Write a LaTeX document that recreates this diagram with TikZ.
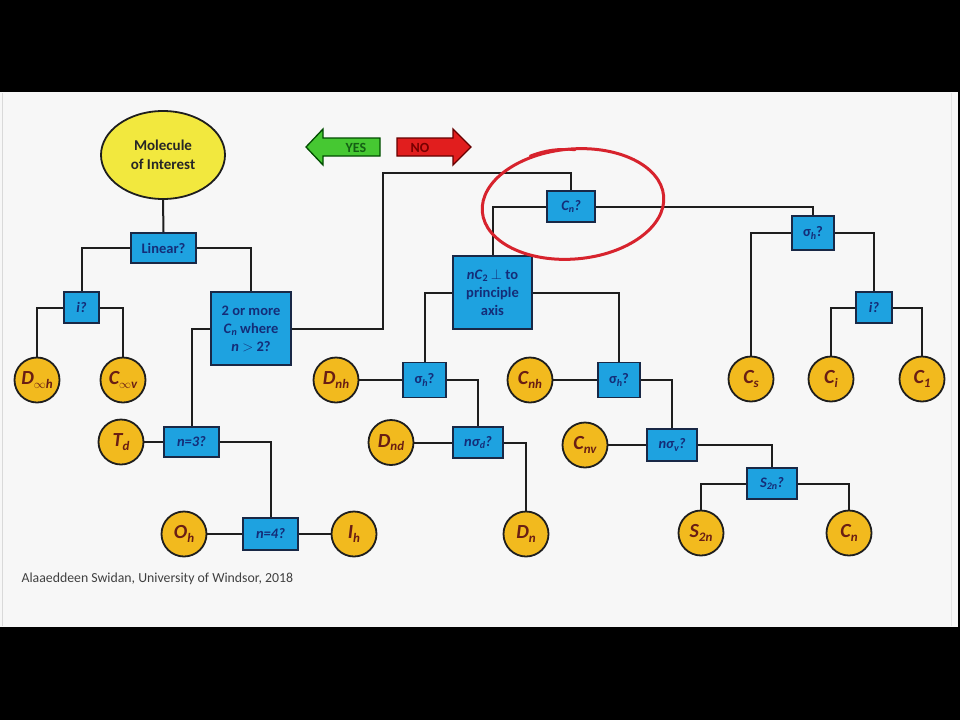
\documentclass[tikz,border=0pt]{standalone}
\usepackage{fontspec}
\setmainfont{Carlito}
\usetikzlibrary{shapes.geometric}
\definecolor{bgwhite}{RGB}{247,247,247}
\definecolor{boxblue}{RGB}{30,162,224}
\definecolor{boxline}{RGB}{25,40,70}
\definecolor{boxtext}{RGB}{20,45,120}
\definecolor{gold}{RGB}{242,186,30}
\definecolor{pgtext}{RGB}{105,30,20}
\definecolor{molyellow}{RGB}{242,232,62}
\definecolor{linec}{RGB}{30,30,30}
\definecolor{yesgreen}{RGB}{70,200,50}
\definecolor{yestext}{RGB}{20,95,20}
\definecolor{nored}{RGB}{225,30,30}
\definecolor{notext}{RGB}{120,0,0}
\definecolor{ringred}{RGB}{215,35,45}
\newcommand{\lsub}[1]{\raisebox{-0.35ex}{\fontsize{13}{13}\selectfont #1}}
\newcommand{\bsub}[1]{\raisebox{-0.3ex}{\fontsize{10}{10}\selectfont #1}}
\tikzset{
  qbox/.style={draw=boxline, line width=1.8pt, fill=boxblue, text=boxtext,
    font=\fontsize{14.5}{18}\selectfont\bfseries, inner sep=0pt, align=center},
  pgc/.style={circle, draw=linec, line width=1.8pt, fill=gold, minimum size=45pt,
    inner sep=0pt, text=pgtext, font=\fontsize{20}{20}\selectfont\bfseries\itshape},
  link/.style={draw=linec, line width=2pt},
}
\begin{document}
\begin{tikzpicture}[x=1pt,y=-1pt]
\useasboundingbox (0,0) rectangle (960,720);
\fill[black] (0,0) rectangle (960,720);
\fill[bgwhite] (0,92) rectangle (958,627);
\draw[black!15, line width=1pt] (2,93) -- (2,626);
\draw[black!10, line width=1pt] (951,93) -- (951,626);

% start
\node[ellipse, draw=linec, line width=1.8pt, fill=molyellow, minimum width=124pt, minimum height=88pt,
  inner sep=0pt, align=center, text=black!85, font=\fontsize{15}{19}\selectfont\bfseries] (mol) at (163,155) {Molecule\\of Interest};

% question boxes
\node[qbox, minimum width=65pt, minimum height=30pt] (lin) at (163.5,248) {Linear?};
\node[qbox, minimum width=35pt, minimum height=31pt] (i1) at (81.5,307.5) {\itshape i?};
\node[qbox, minimum width=80pt, minimum height=73pt] (two) at (251,328.5) {2 or more\\\textit{C}\bsub{\itshape n} where\\\textit{n} $>$ 2?};
\node[qbox, minimum width=55pt, minimum height=30pt] (n3) at (191.5,442) {\itshape n=3?};
\node[qbox, minimum width=55pt, minimum height=32pt] (n4) at (270.5,534) {\itshape n=4?};
\node[qbox, minimum width=48pt, minimum height=31pt] (cn) at (571,206.5) {\itshape C\bsub{n}?};
\node[qbox, minimum width=79pt, minimum height=73pt] (nc2) at (492.5,292.5) {\textit{nC}\bsub{2} $\perp$ to\\principle\\axis};
\node[qbox, minimum width=43pt, minimum height=35pt] (sh1) at (424.5,380) {σ\bsub{\itshape h}?};
\node[qbox, minimum width=50pt, minimum height=31pt] (nsd) at (478,442.5) {\itshape nσ\bsub{d}?};
\node[qbox, minimum width=42pt, minimum height=35pt] (sh2) at (619,380) {σ\bsub{\itshape h}?};
\node[qbox, minimum width=50pt, minimum height=32pt] (nsv) at (672,445) {\itshape nσ\bsub{v}?};
\node[qbox, minimum width=50pt, minimum height=31pt] (s2n) at (772,483.5) {\itshape S\bsub{2n}?};
\node[qbox, minimum width=42pt, minimum height=34pt] (sig) at (813,233) {σ\bsub{\itshape h}?};
\node[qbox, minimum width=36pt, minimum height=31pt] (i2) at (874,307.5) {\itshape i?};

% point groups
\node[pgc] (dih) at (37,380) {D\lsub{$\infty$h}};
\node[pgc] (civ) at (123,380) {C\lsub{$\infty$v}};
\node[pgc] (td) at (121,442) {T\lsub{d}};
\node[pgc] (oh) at (184,534) {O\lsub{h}};
\node[pgc] (ih) at (354,534) {I\lsub{h}};
\node[pgc] (dnh) at (336,380) {D\lsub{nh}};
\node[pgc] (dnd) at (391,442.5) {D\lsub{nd}};
\node[pgc] (dn) at (526,534) {D\lsub{n}};
\node[pgc] (cnh) at (530,380) {C\lsub{nh}};
\node[pgc] (cnv) at (585,445) {C\lsub{nv}};
\node[pgc] (s2nc) at (701,533) {S\lsub{2n}};
\node[pgc] (cnc) at (849,533) {C\lsub{n}};
\node[pgc] (cs) at (751,379) {C\lsub{s}};
\node[pgc] (ci) at (831,379) {C\lsub{i}};
\node[pgc] (c1) at (922,379) {C\lsub{1}};

% connectors
\coordinate (k1) at (383,173);
\path[link] (mol.south) -- (lin.north);
\path[link] (lin.west) -| (i1.north);
\path[link] (lin.east) -| (two.north);
\path[link] (i1.west) -| (dih.north);
\path[link] (i1.east) -| (civ.north);
\path[link] (two.west) -| (n3.north);
\path[link] (n3.west) -- (td.east);
\path[link] (n3.east) -| (n4.north);
\path[link] (n4.west) -- (oh.east);
\path[link] (n4.east) -- (ih.west);
\path[link] (two.east) -| (k1) -| (cn.north);
\path[link] (cn.west) -| (nc2.north);
\path[link] (cn.east) -| (sig.north);
\path[link] (nc2.west) -| (sh1.north);
\path[link] (nc2.east) -| (sh2.north);
\path[link] (sh1.west) -- (dnh.east);
\path[link] (sh1.east) -| (nsd.north);
\path[link] (nsd.west) -- (dnd.east);
\path[link] (nsd.east) -| (dn.north);
\path[link] (sh2.west) -- (cnh.east);
\path[link] (sh2.east) -| (nsv.north);
\path[link] (nsv.west) -- (cnv.east);
\path[link] (nsv.east) -| (s2n.north);
\path[link] (s2n.west) -| (s2nc.north);
\path[link] (s2n.east) -| (cnc.north);
\path[link] (sig.west) -| (cs.north);
\path[link] (sig.east) -| (i2.north);
\path[link] (i2.west) -| (ci.north);
\path[link] (i2.east) -| (c1.north);

% YES / NO arrows
\draw[draw=black!70!green, line width=1.3pt, fill=yesgreen, line join=miter]
  (306,147) -- (323,129) -- (323,138) -- (380,138) -- (380,156) -- (323,156) -- (323,165) -- cycle;
\node[text=yestext, font=\fontsize{14}{14}\selectfont\bfseries] (yes) at (356,147.5) {YES};
\draw[draw=black!60!red, line width=1.3pt, fill=nored, line join=miter]
  (471,147) -- (453,129) -- (453,138) -- (397,138) -- (397,156) -- (453,156) -- (453,165) -- cycle;
\node[text=notext, font=\fontsize{14}{14}\selectfont\bfseries] (no) at (420,147.5) {NO};

% red ring
\draw[ringred, line width=3pt, rotate around={5:(573,204)}] (573,204) ellipse (91 and 55);
\draw[ringred, line width=2.5pt, line cap=round] (530,156) .. controls (545,150) and (560,148) .. (575,150);

% credit
\node[anchor=west, text=black!75, font=\fontsize{13.8}{15}\selectfont] (credit) at (18,579) {Alaaeddeen Swidan, University of Windsor, 2018};
\end{tikzpicture}
\end{document}
